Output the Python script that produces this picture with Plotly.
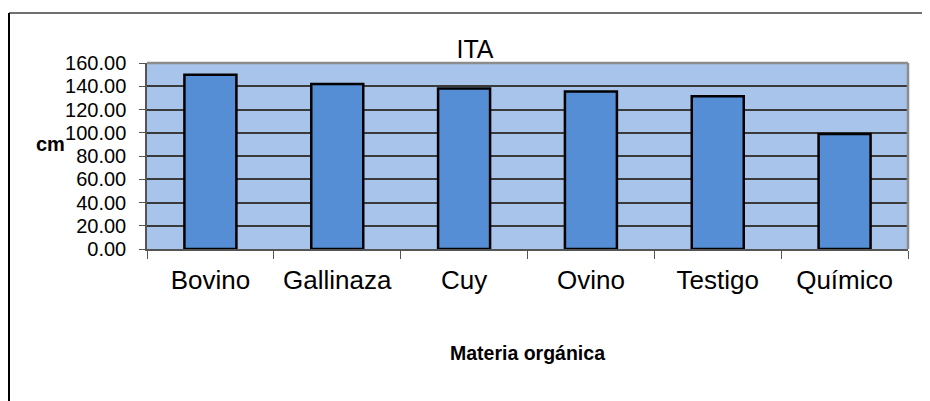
import plotly.graph_objects as go

# Datos
categorias = ['Bovino', 'Gallinaza', 'Cuy', 'Ovino', 'Testigo', 'Químico']
altura_cm = [150.0, 142.0, 138.0, 135.5, 131.5, 99.0]
ticks_y = [0, 20, 40, 60, 80, 100, 120, 140, 160]

# la página añade 8 px de margen, el área de trazado va de x 147..908, y 63..249 en pantalla
W, H = 922, 393
px = lambda sx: (sx - 147) / 761
py = lambda sy: (249 - sy) / 186

fig = go.Figure()

fig.add_trace(go.Bar(
    x=categorias, y=altura_cm,
    marker=dict(color='#558ED5', line=dict(color='black', width=2.5)),
    showlegend=False))

fig.update_layout(
    width=W, height=H,
    margin=dict(l=139, r=W - 900, t=55, b=H - 241),
    paper_bgcolor='white',
    plot_bgcolor='#A9C4EB',
    bargap=0.59,
    font=dict(family='Liberation Sans, Arial', color='black'),
    title=dict(text='ITA', x=(475 - 8) / W, xanchor='center', y=1 - 41 / H, yanchor='middle',
               font=dict(size=25, color='black')),
    xaxis=dict(
        tickson='boundaries', ticks='outside', ticklen=8, tickcolor='#555555',
        showline=True, linecolor='#555555', linewidth=1.5,
        showgrid=False, tickfont=dict(size=26), ticklabelstandoff=7),
    yaxis=dict(
        range=[0, 160], tickvals=ticks_y, tickformat='.2f',
        ticks='outside', ticklen=6, tickcolor='#555555',
        showline=True, linecolor='#555555', linewidth=1.5,
        showgrid=True, gridcolor='#3A3A3A', gridwidth=1.5,
        tickfont=dict(size=20), ticklabelstandoff=9, zeroline=False),
)

# Borde superior y derecho del área de trazado
fig.add_shape(type='line', xref='paper', yref='paper', x0=0, x1=1, y0=1, y1=1,
              line=dict(color='#8C8C8C', width=2.5))
fig.add_shape(type='line', xref='paper', yref='paper', x0=1, x1=1, y0=0, y1=1,
              line=dict(color='#8C8C8C', width=2.5))

# Marco exterior (recortado a la derecha y abajo)
fig.add_shape(type='line', xref='paper', yref='paper',
              x0=px(9), x1=px(940), y0=py(13), y1=py(13),
              line=dict(color='#404040', width=1.5))
fig.add_shape(type='line', xref='paper', yref='paper',
              x0=px(9), x1=px(9), y0=py(13), y1=py(410),
              line=dict(color='black', width=2))

fig.add_annotation(text='<b>cm</b>', xref='paper', yref='paper',
                   x=px(50), y=py(144), xanchor='center', yanchor='middle',
                   showarrow=False, font=dict(size=20))
fig.add_annotation(text='<b>Materia orgánica</b>', xref='paper', yref='paper',
                   x=px(527), y=py(353), xanchor='center', yanchor='middle',
                   showarrow=False, font=dict(size=19.5))

fig.write_html('out.html')
